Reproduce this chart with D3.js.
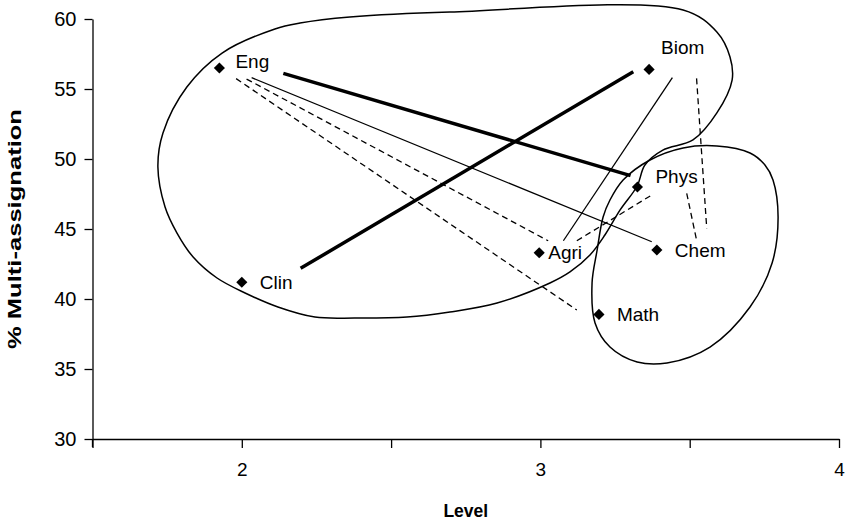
<!DOCTYPE html>
<html><head><meta charset="utf-8">
<script src="https://cdn.jsdelivr.net/npm/d3@7"></script>
<style>body{margin:0;background:#fff}svg{display:block}text{font-family:Arial,"Liberation Sans",sans-serif;fill:#000}</style>
</head><body>
<script>
// ---- data ----
const fields = ["Eng","Biom","Phys","Agri","Chem","Math","Clin"];
const levels = [1.925, 3.364, 3.325, 2.996, 3.39, 3.196, 2.0];
const multiAssign = [56.5, 56.4, 48.0, 43.3, 43.5, 38.9, 41.2];
const xTicks = [1.5, 2, 2.5, 3, 3.5, 4];
const xTickLabels = ["", "2", "", "3", "", "4"];
const yTicks = [30, 35, 40, 45, 50, 55, 60];
// annotation lines in data units [level, %]
const thickLines = [
  [[2.139, 56.12], [3.302, 48.81]],
  [[2.197, 42.19], [3.311, 56.24]]
];
const thinLines = [
  [[2.033, 55.81], [3.373, 44.09]],
  [[3.442, 55.81], [3.077, 44.16]]
];
const dashedLines = [
  [[2.016, 55.71], [3.026, 44.16]],
  [[1.981, 55.74], [3.122, 39.21]],
  [[3.122, 44.16], [3.373, 47.43]],
  [[3.523, 55.76], [3.557, 45.05]],
  [[3.49, 47.55], [3.523, 44.21]]
];
const leftBlob = [[2.111,59.29],[2.195,59.71],[2.362,60.14],[2.697,60.5],[3.478,60.64],[3.591,59.07],[3.635,57.29],[3.642,55.64],[3.591,53.29],[3.511,51.36],[3.41,50.64],[3.35,49.57],[3.324,48.07],[3.267,46.36],[3.216,44.57],[3.166,43.14],[3.099,41.93],[3.032,41.14],[2.855,39.71],[2.697,39.07],[2.553,38.71],[2.379,38.64],[2.245,38.71],[2.121,39.43],[2.011,40.43],[1.917,41.5],[1.837,43.0],[1.783,44.71],[1.743,46.57],[1.719,49.43],[1.736,51.86],[1.816,55.14],[1.934,57.57]];
const rightBlob = [[3.702,50.43],[3.591,50.93],[3.478,50.79],[3.367,49.93],[3.277,48.5],[3.233,47.07],[3.21,45.86],[3.19,43.5],[3.173,41.14],[3.183,38.29],[3.233,36.57],[3.324,35.5],[3.424,35.43],[3.568,36.57],[3.702,39.43],[3.776,42.57],[3.796,45.86],[3.779,48.5],[3.752,49.57]];

// label placement (pixel offsets from the marker)
const labelOffset = {Eng:[16,-7], Biom:[12,-22], Phys:[18,-11], Agri:[9,0], Chem:[18,0], Math:[18,0], Clin:[18,0]};

const W = 848, H = 529;
const FONT = "Arial, 'Liberation Sans', sans-serif";
const svg = d3.select("body").append("svg").attr("width", W).attr("height", H);
const x = d3.scaleLinear().domain([1.5, 4]).range([92.5, 839]);
const y = d3.scaleLinear().domain([30, 60]).range([439, 19]);

// axes
const xAxis = d3.axisBottom(x).tickValues(xTicks).tickSize(9).tickSizeOuter(0)
  .tickFormat((d, i) => xTickLabels[i]);
const gx = svg.append("g").attr("transform", `translate(0,${y(30)})`).call(xAxis);
gx.select(".domain").attr("stroke", "#000").attr("stroke-width", 1.3);
gx.selectAll(".tick line").attr("stroke", "#000").attr("stroke-width", 1.3);
gx.selectAll(".tick text").attr("font-size", 19).attr("y", 24).attr("font-family", FONT);

const yAxis = d3.axisLeft(y).tickValues(yTicks).tickSize(8).tickSizeOuter(0);
const gy = svg.append("g").attr("transform", `translate(${x(1.5)},0)`).call(yAxis);
gy.select(".domain").attr("stroke", "#000").attr("stroke-width", 1.3);
gy.selectAll(".tick line").attr("stroke", "#000").attr("stroke-width", 1.3);
gy.selectAll(".tick text").attr("font-size", 20).attr("x", -16).attr("font-family", FONT);
// y axis extends slightly below x axis
svg.append("line").attr("x1", x(1.5)).attr("x2", x(1.5)).attr("y1", y(30)).attr("y2", y(30) + 8)
  .attr("stroke", "#000").attr("stroke-width", 1.3);

// axis titles
svg.append("text").attr("x", (x(1.5) + x(4)) / 2).attr("y", 517).attr("text-anchor", "middle")
  .attr("font-size", 17.5).attr("font-weight", "bold").text("Level");
svg.append("text").attr("transform", `translate(21,${(y(30) + y(60)) / 2}) rotate(-90)`)
  .attr("text-anchor", "middle").attr("font-size", 18).attr("font-weight", "bold")
  .attr("textLength", 240).attr("lengthAdjust", "spacingAndGlyphs").text("% Multi-assignation");

// annotation curves
const blobLine = d3.line().x(d => x(d[0])).y(d => y(d[1])).curve(d3.curveCatmullRomClosed.alpha(0.5));
[leftBlob, rightBlob].forEach(b => svg.append("path").attr("d", blobLine(b))
  .attr("fill", "none").attr("stroke", "#000").attr("stroke-width", 1.5));

const seg = d3.line().x(d => x(d[0])).y(d => y(d[1]));
thickLines.forEach(l => svg.append("path").attr("d", seg(l)).attr("stroke", "#000").attr("stroke-width", 3.5).attr("fill", "none"));
thinLines.forEach(l => svg.append("path").attr("d", seg(l)).attr("stroke", "#000").attr("stroke-width", 1.3).attr("fill", "none"));
dashedLines.forEach(l => svg.append("path").attr("d", seg(l)).attr("stroke", "#000").attr("stroke-width", 1.3)
  .attr("stroke-dasharray", "6,4").attr("fill", "none"));

// points
const pts = fields.map((f, i) => ({ f, lx: levels[i], ly: multiAssign[i] }));
const diamond = d3.symbol().type(d3.symbolSquare).size(62);
svg.append("g").selectAll("path").data(pts).join("path")
  .attr("d", diamond)
  .attr("transform", d => `translate(${x(d.lx)},${y(d.ly)}) rotate(45)`)
  .attr("fill", "#000");
svg.append("g").selectAll("text").data(pts).join("text")
  .attr("x", d => x(d.lx) + labelOffset[d.f][0])
  .attr("y", d => y(d.ly) + labelOffset[d.f][1])
  .attr("dy", "0.35em").attr("font-size", 19).text(d => d.f);
</script>
</body></html>
